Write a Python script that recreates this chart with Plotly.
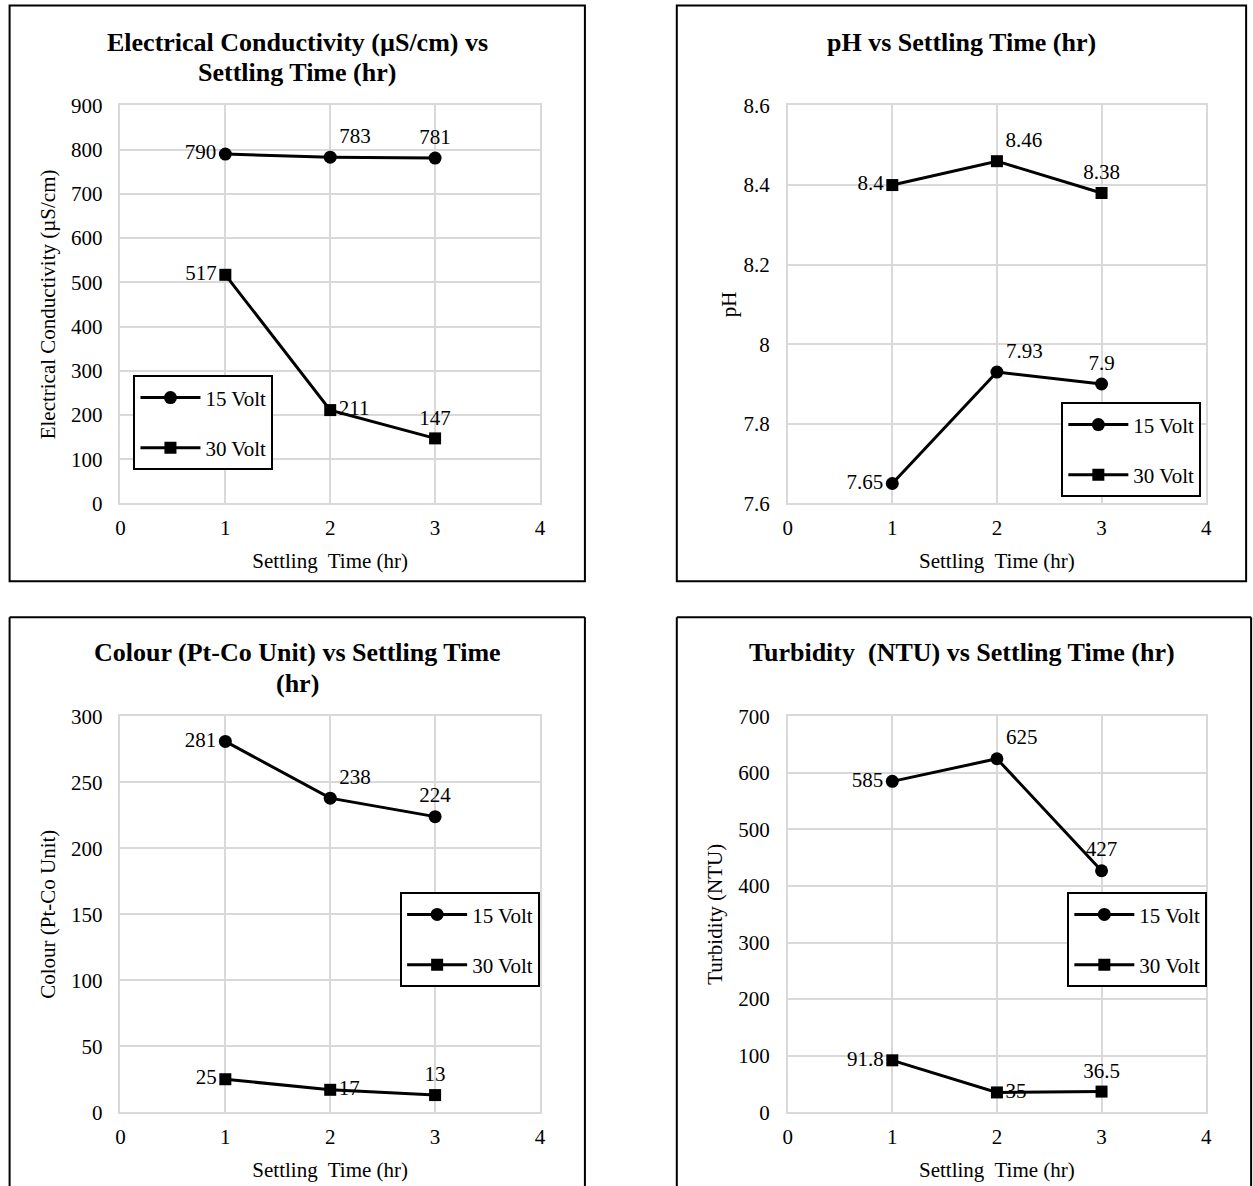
import plotly.graph_objects as go

# ---------------- data ----------------
settling_time = [1, 2, 3]
series_names = ["15 Volt", "30 Volt"]

ec_15 = [790, 783, 781]
ec_30 = [517, 211, 147]

ph_15 = [7.65, 7.93, 7.9]
ph_30 = [8.4, 8.46, 8.38]

colour_15 = [281, 238, 224]
colour_30 = [25, 17, 13]

turb_15 = [585, 625, 427]
turb_30 = [91.8, 35, 36.5]

ec_labels_15 = ["790", "783", "781"]
ec_labels_30 = ["517", "211", "147"]
ph_labels_15 = ["7.65", "7.93", "7.9"]
ph_labels_30 = ["8.4", "8.46", "8.38"]
colour_labels_15 = ["281", "238", "224"]
colour_labels_30 = ["25", "17", "13"]
turb_labels_15 = ["585", "625", "427"]
turb_labels_30 = ["91.8", "35", "36.5"]

title_lines = [
    ["Electrical Conductivity (µS/cm) vs", "Settling Time (hr)"],
    ["pH vs Settling Time (hr)"],
    ["Colour (Pt-Co Unit) vs Settling Time", "(hr)"],
    ["Turbidity  (NTU) vs Settling Time (hr)"],
]
y_titles = ["Electrical Conductivity (µS/cm)", "pH", "Colour (Pt-Co Unit)", "Turbidity (NTU)"]
x_title = "Settling  Time (hr)"

# ---------------- layout helpers ----------------
W, H = 1253, 1186
FONT = "Liberation Serif, Times New Roman, DejaVu Serif, serif"
FS = 21

# empirical compensation for the capture offset/scale
SX_A, SX_B = 4.4, 0.9924
SY_A, SY_B = 11.5, 0.980


def px_x(v):
    return ((v - SX_A) / SX_B) / W


def px_y(v):
    return 1 - ((v - SY_A) / SY_B) / H


panels = [
    dict(xd=[120, 540], yd=[105, 503], border=[9, 5, 585, 581], closed=True,
         title_y=[42, 72], title_x=297, yrange=[0, 900], dtick=100,
         y15=ec_15, y30=ec_30, l15=ec_labels_15, l30=ec_labels_30,
         pos15=["middle left", "top right", "top center"],
         pos30=["middle left", "middle right", "top center"],
         legend_xy=(133, 375), ystand=10),
    dict(xd=[788, 1207], yd=[105, 503], border=[677, 5, 1247, 581], closed=True,
         title_y=[42], title_x=962, yrange=[7.6, 8.6], dtick=0.2,
         y15=ph_15, y30=ph_30, l15=ph_labels_15, l30=ph_labels_30,
         pos15=["middle left", "top right", "top center"],
         pos30=["middle left", "top right", "top center"],
         legend_xy=(1062, 402), ystand=1),
    dict(xd=[120, 540], yd=[716, 1112], border=[9, 617, 585, 1200], closed=False,
         title_y=[652, 683], title_x=297, yrange=[0, 300], dtick=50,
         y15=colour_15, y30=colour_30, l15=colour_labels_15, l30=colour_labels_30,
         pos15=["middle left", "top right", "top center"],
         pos30=["middle left", "middle right", "top center"],
         legend_xy=(400, 892), ystand=10),
    dict(xd=[788, 1207], yd=[716, 1112], border=[677, 617, 1252, 1200], closed=False,
         title_y=[652], title_x=963, yrange=[0, 700], dtick=100,
         y15=turb_15, y30=turb_30, l15=turb_labels_15, l30=turb_labels_30,
         pos15=["middle left", "top right", "top center"],
         pos30=["middle left", "middle right", "top center"],
         legend_xy=(1068, 892), ystand=10),
]

fig = go.Figure()
shapes = []
annotations = []
layout_updates = {}

for i, p in enumerate(panels):
    n = i + 1
    xa = "x" if n == 1 else f"x{n}"
    ya = "y" if n == 1 else f"y{n}"
    leg = "legend" if n == 1 else f"legend{n}"

    for name, yv, lab, pos, sym, msize in [
        (series_names[0], p["y15"], p["l15"], p["pos15"], "circle", 13),
        (series_names[1], p["y30"], p["l30"], p["pos30"], "square", 12),
    ]:
        fig.add_trace(go.Scatter(
            x=settling_time, y=yv, name=name, mode="lines+markers+text",
            text=lab, textposition=pos,
            textfont=dict(family=FONT, size=FS, color="black"),
            line=dict(color="black", width=3),
            marker=dict(symbol=sym, size=msize, color="black"),
            xaxis=xa, yaxis=ya, legend=leg, legendgroup=f"{name}{n}",
            cliponaxis=False,
        ))

    axis_common = dict(
        showgrid=True, gridcolor="#d9d9d9", gridwidth=1.5,
        showline=True, linecolor="#d9d9d9", linewidth=1.5, mirror=True,
        zeroline=False, ticks="",
        tickfont=dict(family=FONT, size=FS, color="black"),
    )
    xkey = "xaxis" if n == 1 else f"xaxis{n}"
    ykey = "yaxis" if n == 1 else f"yaxis{n}"
    layout_updates[xkey] = dict(
        axis_common, domain=[px_x(p["xd"][0]), px_x(p["xd"][1])],
        range=[0, 4], dtick=1, tick0=0, anchor=ya, ticklabelstandoff=5,
        title=dict(text=x_title, font=dict(family=FONT, size=FS, color="black"), standoff=14),
    )
    layout_updates[ykey] = dict(
        axis_common, domain=[px_y(p["yd"][1]), px_y(p["yd"][0])],
        range=p["yrange"], dtick=p["dtick"], tick0=p["yrange"][0], anchor=xa,
        ticklabelstandoff=12,
        title=dict(text=y_titles[i], font=dict(family=FONT, size=FS, color="black"),
                   standoff=p["ystand"]),
    )
    layout_updates[leg] = dict(
        x=px_x(p["legend_xy"][0]), y=px_y(p["legend_xy"][1]),
        xanchor="left", yanchor="top",
        bgcolor="white", bordercolor="black", borderwidth=2,
        font=dict(family=FONT, size=FS, color="black"),
        tracegroupgap=20, traceorder="grouped", itemwidth=60,
    )

    b = p["border"]
    bx0, bx1 = px_x(b[0]), px_x(b[2])
    by_top = px_y(b[1])
    if p["closed"]:
        shapes.append(dict(type="rect", xref="paper", yref="paper",
                           x0=bx0, x1=bx1, y0=px_y(b[3]), y1=by_top,
                           line=dict(color="black", width=2)))
    else:
        by_bot = -0.02
        for sx0, sy0, sx1, sy1 in [(bx0, by_bot, bx0, by_top), (bx0, by_top, bx1, by_top),
                                   (bx1, by_top, bx1, by_bot)]:
            shapes.append(dict(type="line", xref="paper", yref="paper",
                               x0=sx0, y0=sy0, x1=sx1, y1=sy1,
                               line=dict(color="black", width=2)))
    for line_text, ty in zip(title_lines[i], p["title_y"]):
        annotations.append(dict(
            text=f"<b>{line_text}</b>", xref="paper", yref="paper",
            x=px_x(p["title_x"]), y=px_y(ty),
            xanchor="center", yanchor="middle", showarrow=False,
            font=dict(family=FONT, size=26, color="black"),
        ))

fig.update_layout(
    width=W, height=H, margin=dict(l=0, r=0, t=0, b=0),
    paper_bgcolor="white", plot_bgcolor="white",
    shapes=shapes, annotations=annotations,
    **layout_updates,
)

fig.write_html("out.html")
